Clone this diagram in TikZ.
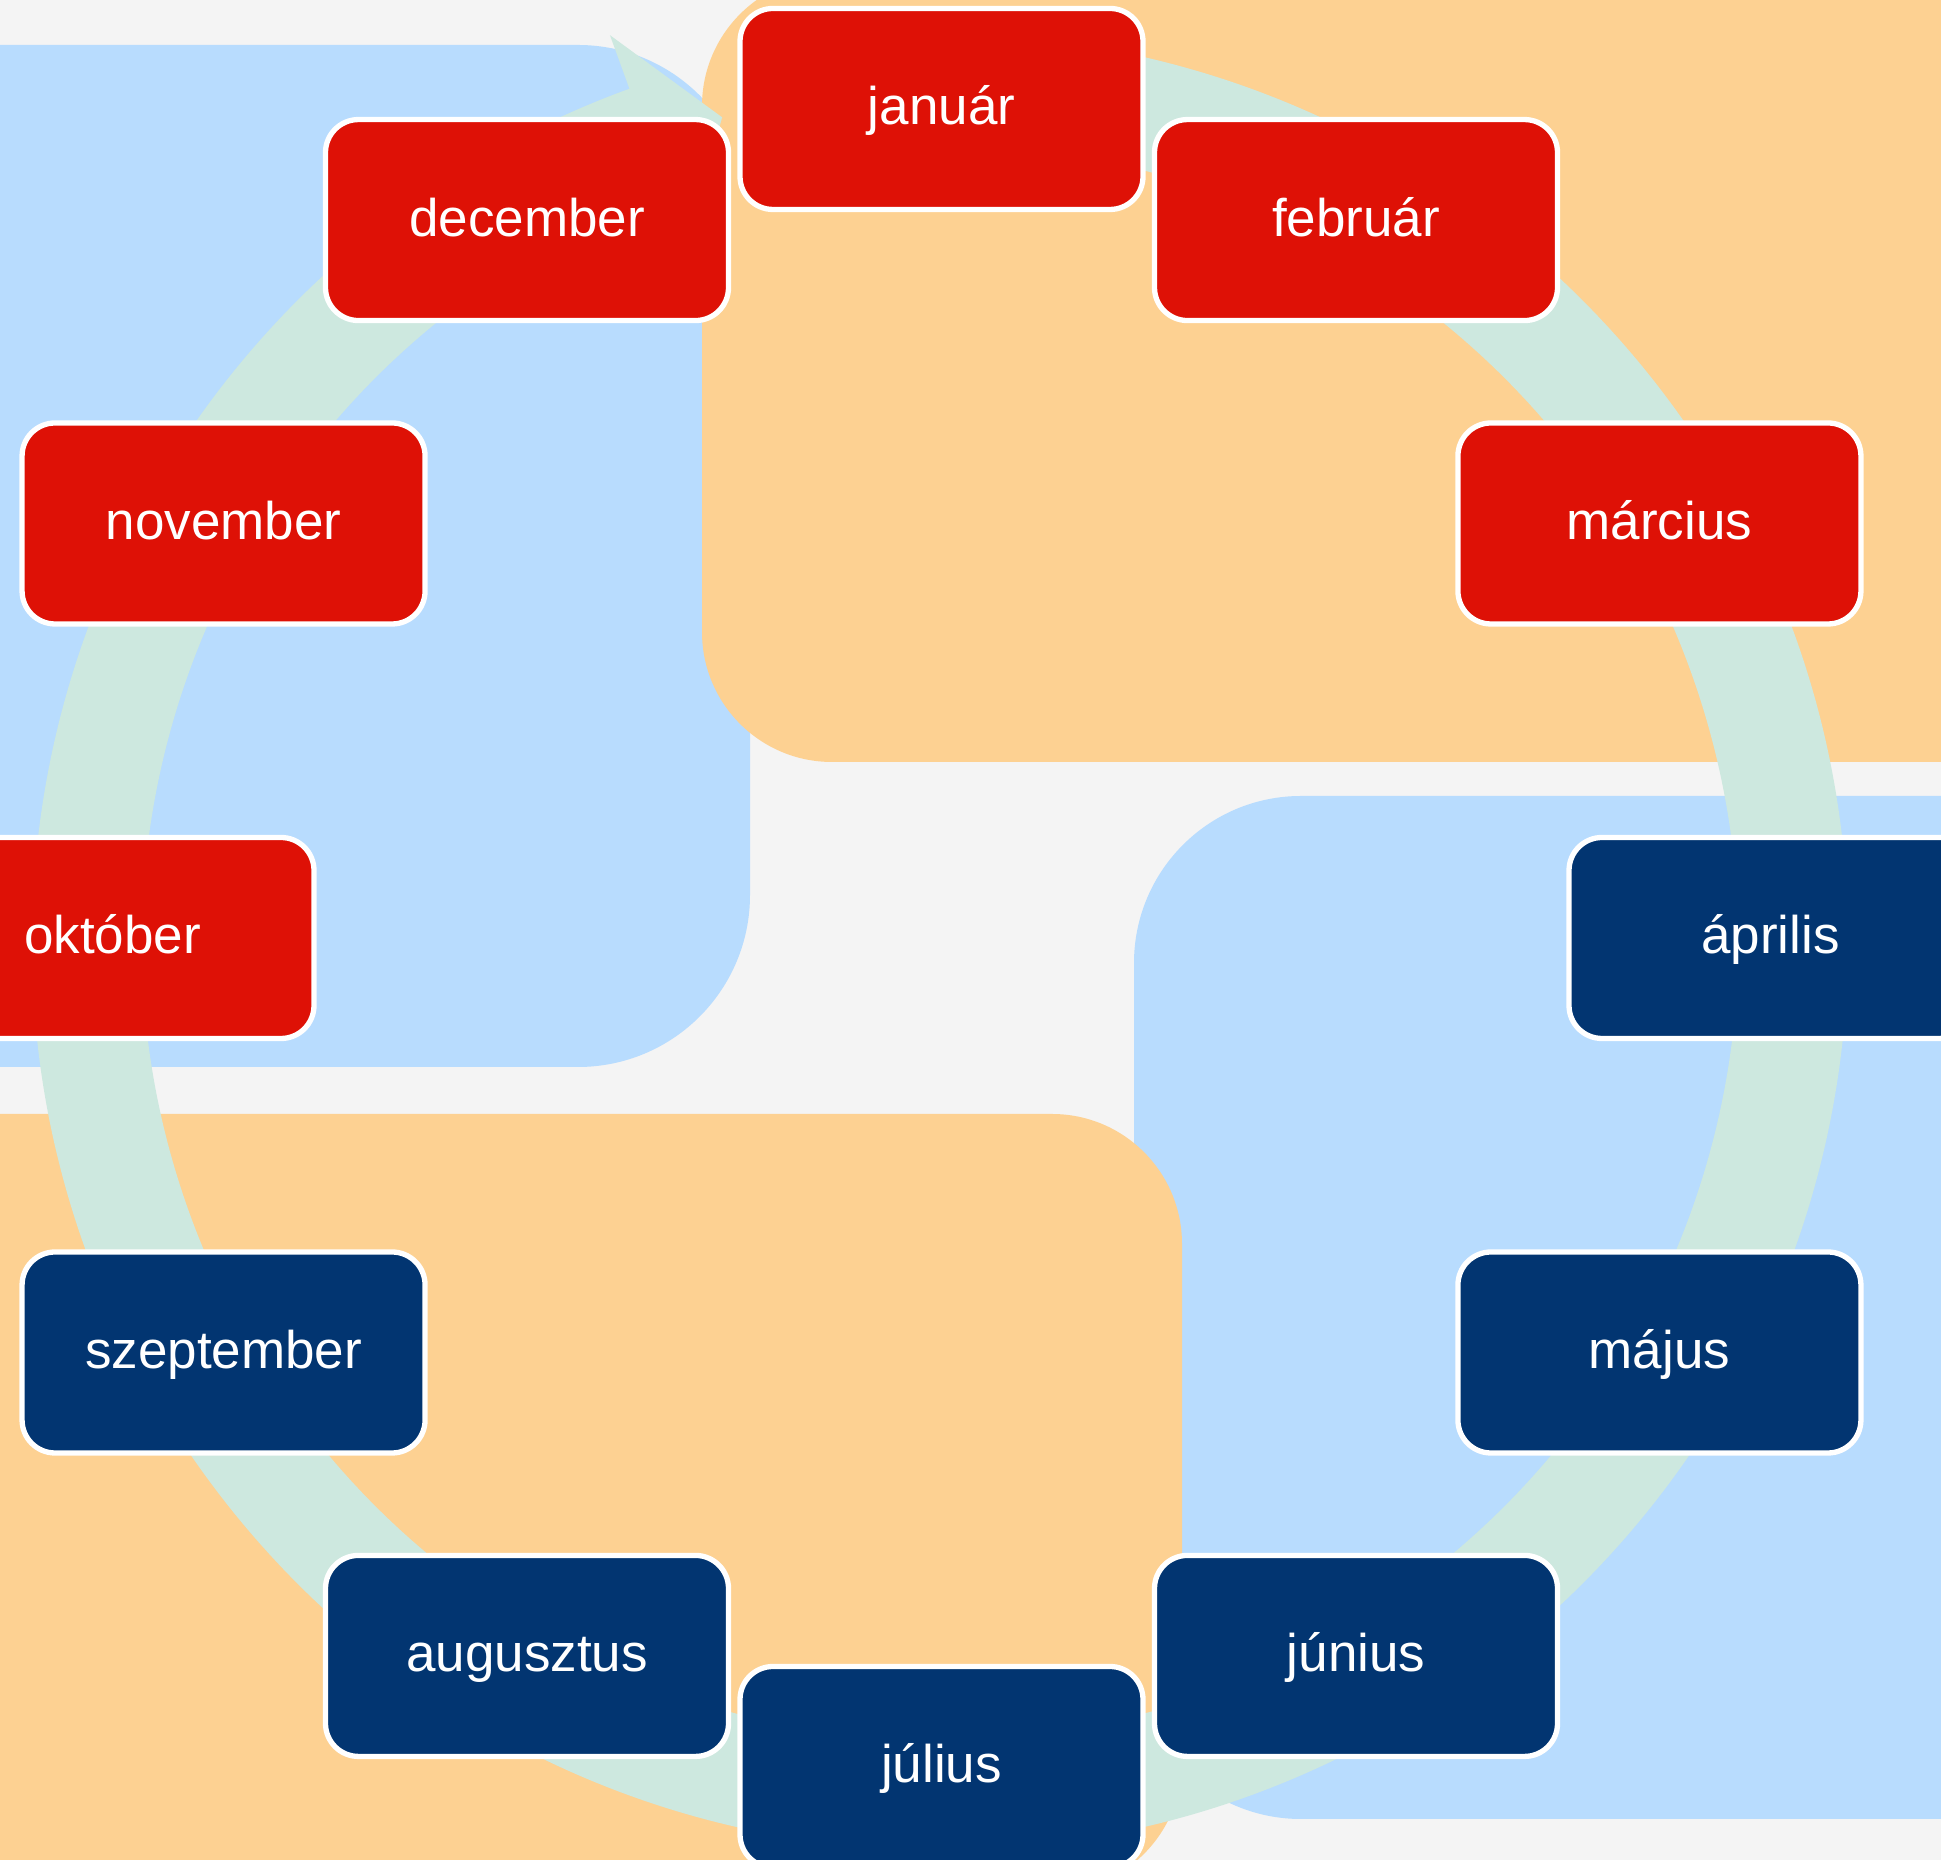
\documentclass[tikz,border=0pt]{standalone}
\usepackage{fontspec}
\setmainfont{Liberation Sans}
\definecolor{bgc}{HTML}{F4F4F4}
\definecolor{bluebg}{HTML}{B8DCFE}
\definecolor{orangebg}{HTML}{FDD192}
\definecolor{ringc}{HTML}{CDE8DF}
\definecolor{redm}{HTML}{DE1106}
\definecolor{navym}{HTML}{023571}
\begin{document}
\begin{tikzpicture}[x=1pt,y=1pt,
  month/.style={rectangle, rounded corners=33pt, draw=white, line width=5.3pt,
    minimum width=403pt, minimum height=201pt, inner sep=0pt,
    text height=42pt, text depth=10pt, text=white,
    font=\fontsize{53}{64}\selectfont},
  hot/.style={month, fill=redm},
  cold/.style={month, fill=navym}]
\useasboundingbox (0,0) rectangle (1941,1860);
\clip (0,0) rectangle (1941,1860);
\fill[bgc] (0,0) rectangle (1941,1860);
% background panels
\fill[bluebg, rounded corners=172pt] (-500,793) rectangle (750,1815);
\fill[bluebg, rounded corners=167pt] (1134,41) rectangle (2400,1064);
\fill[orangebg, rounded corners=130pt] (702,1098) rectangle (2400,1884);
\fill[orangebg, rounded corners=130pt] (-500,-32) rectangle (1182,746);
% cycle ring with arrow head
\begin{scope}[shift={(940,918)}]
\fill[ringc] (85:908pt) arc[start angle=85, end angle=-250, radius=908pt]
  -- (110:965pt) -- (104.8:853pt) -- (110:741pt) -- (110:798pt)
  arc[start angle=-250, end angle=85, radius=798pt] -- cycle;
\end{scope}
% months
\def\cx{941.5}\def\cy{922}\def\rr{829}
\node[hot]  (jan) at ({\cx+\rr*cos(90)},{\cy+\rr*sin(90)}) {január};
\node[hot]  (feb) at ({\cx+\rr*cos(60)},{\cy+\rr*sin(60)}) {február};
\node[hot]  (mar) at ({\cx+\rr*cos(30)},{\cy+\rr*sin(30)}) {március};
\node[cold] (apr) at ({\cx+\rr*cos(0)},{\cy+\rr*sin(0)}) {április};
\node[cold] (maj) at ({\cx+\rr*cos(-30)},{\cy+\rr*sin(-30)}) {május};
\node[cold] (jun) at ({\cx+\rr*cos(-60)},{\cy+\rr*sin(-60)}) {június};
\node[cold] (jul) at ({\cx+\rr*cos(-90)},{\cy+\rr*sin(-90)}) {július};
\node[cold] (aug) at ({\cx+\rr*cos(-120)},{\cy+\rr*sin(-120)}) {augusztus};
\node[cold] (szep) at ({\cx+\rr*cos(-150)},{\cy+\rr*sin(-150)}) {szeptember};
\node[hot]  (okt) at ({\cx+\rr*cos(180)},{\cy+\rr*sin(180)}) {október};
\node[hot]  (nov) at ({\cx+\rr*cos(150)},{\cy+\rr*sin(150)}) {november};
\node[hot]  (dec) at ({\cx+\rr*cos(120)},{\cy+\rr*sin(120)}) {december};
\end{tikzpicture}
\end{document}
